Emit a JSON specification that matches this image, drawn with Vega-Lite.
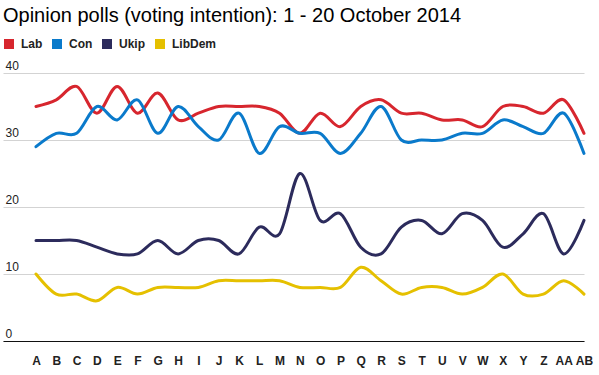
{
  "$schema": "https://vega.github.io/schema/vega-lite/v6.json",
  "width": 581,
  "height": 268,
  "autosize": {"type": "none"},
  "padding": {"left": 3, "top": 73, "right": 15, "bottom": 34},
  "background": "white",
  "title": {
    "text": "Opinion polls (voting intention): 1 - 20 October 2014",
    "anchor": "start",
    "frame": "group",
    "fontSize": 20,
    "font": "Liberation Sans",
    "fontWeight": "normal",
    "color": "#000000",
    "offset": 12
  },
  "config": {"view": {"stroke": null}},
  "datasets": {
    "polls": [
      {"poll": "A", "party": "Lab", "pct": 35}, {"poll": "B", "party": "Lab", "pct": 36}, {"poll": "C", "party": "Lab", "pct": 38}, {"poll": "D", "party": "Lab", "pct": 34},
      {"poll": "E", "party": "Lab", "pct": 38}, {"poll": "F", "party": "Lab", "pct": 34}, {"poll": "G", "party": "Lab", "pct": 37}, {"poll": "H", "party": "Lab", "pct": 33},
      {"poll": "I", "party": "Lab", "pct": 34}, {"poll": "J", "party": "Lab", "pct": 35}, {"poll": "K", "party": "Lab", "pct": 35}, {"poll": "L", "party": "Lab", "pct": 35},
      {"poll": "M", "party": "Lab", "pct": 34}, {"poll": "N", "party": "Lab", "pct": 31}, {"poll": "O", "party": "Lab", "pct": 34}, {"poll": "P", "party": "Lab", "pct": 32},
      {"poll": "Q", "party": "Lab", "pct": 35}, {"poll": "R", "party": "Lab", "pct": 36}, {"poll": "S", "party": "Lab", "pct": 34}, {"poll": "T", "party": "Lab", "pct": 34},
      {"poll": "U", "party": "Lab", "pct": 33}, {"poll": "V", "party": "Lab", "pct": 33}, {"poll": "W", "party": "Lab", "pct": 32}, {"poll": "X", "party": "Lab", "pct": 35},
      {"poll": "Y", "party": "Lab", "pct": 35}, {"poll": "Z", "party": "Lab", "pct": 34}, {"poll": "AA", "party": "Lab", "pct": 36}, {"poll": "AB", "party": "Lab", "pct": 31},

      {"poll": "A", "party": "Con", "pct": 29}, {"poll": "B", "party": "Con", "pct": 31}, {"poll": "C", "party": "Con", "pct": 31}, {"poll": "D", "party": "Con", "pct": 35},
      {"poll": "E", "party": "Con", "pct": 33}, {"poll": "F", "party": "Con", "pct": 36}, {"poll": "G", "party": "Con", "pct": 31}, {"poll": "H", "party": "Con", "pct": 35},
      {"poll": "I", "party": "Con", "pct": 32}, {"poll": "J", "party": "Con", "pct": 30}, {"poll": "K", "party": "Con", "pct": 34}, {"poll": "L", "party": "Con", "pct": 28},
      {"poll": "M", "party": "Con", "pct": 32}, {"poll": "N", "party": "Con", "pct": 31}, {"poll": "O", "party": "Con", "pct": 31}, {"poll": "P", "party": "Con", "pct": 28},
      {"poll": "Q", "party": "Con", "pct": 31}, {"poll": "R", "party": "Con", "pct": 35}, {"poll": "S", "party": "Con", "pct": 30}, {"poll": "T", "party": "Con", "pct": 30},
      {"poll": "U", "party": "Con", "pct": 30}, {"poll": "V", "party": "Con", "pct": 31}, {"poll": "W", "party": "Con", "pct": 31}, {"poll": "X", "party": "Con", "pct": 33},
      {"poll": "Y", "party": "Con", "pct": 32}, {"poll": "Z", "party": "Con", "pct": 31}, {"poll": "AA", "party": "Con", "pct": 34}, {"poll": "AB", "party": "Con", "pct": 28},

      {"poll": "A", "party": "Ukip", "pct": 15}, {"poll": "B", "party": "Ukip", "pct": 15}, {"poll": "C", "party": "Ukip", "pct": 15}, {"poll": "D", "party": "Ukip", "pct": 14},
      {"poll": "E", "party": "Ukip", "pct": 13}, {"poll": "F", "party": "Ukip", "pct": 13}, {"poll": "G", "party": "Ukip", "pct": 15}, {"poll": "H", "party": "Ukip", "pct": 13},
      {"poll": "I", "party": "Ukip", "pct": 15}, {"poll": "J", "party": "Ukip", "pct": 15}, {"poll": "K", "party": "Ukip", "pct": 13}, {"poll": "L", "party": "Ukip", "pct": 17},
      {"poll": "M", "party": "Ukip", "pct": 16}, {"poll": "N", "party": "Ukip", "pct": 25}, {"poll": "O", "party": "Ukip", "pct": 18}, {"poll": "P", "party": "Ukip", "pct": 19},
      {"poll": "Q", "party": "Ukip", "pct": 14}, {"poll": "R", "party": "Ukip", "pct": 13}, {"poll": "S", "party": "Ukip", "pct": 17}, {"poll": "T", "party": "Ukip", "pct": 18},
      {"poll": "U", "party": "Ukip", "pct": 16}, {"poll": "V", "party": "Ukip", "pct": 19}, {"poll": "W", "party": "Ukip", "pct": 18}, {"poll": "X", "party": "Ukip", "pct": 14},
      {"poll": "Y", "party": "Ukip", "pct": 16}, {"poll": "Z", "party": "Ukip", "pct": 19}, {"poll": "AA", "party": "Ukip", "pct": 13}, {"poll": "AB", "party": "Ukip", "pct": 18},

      {"poll": "A", "party": "LibDem", "pct": 10}, {"poll": "B", "party": "LibDem", "pct": 7}, {"poll": "C", "party": "LibDem", "pct": 7}, {"poll": "D", "party": "LibDem", "pct": 6},
      {"poll": "E", "party": "LibDem", "pct": 8}, {"poll": "F", "party": "LibDem", "pct": 7}, {"poll": "G", "party": "LibDem", "pct": 8}, {"poll": "H", "party": "LibDem", "pct": 8},
      {"poll": "I", "party": "LibDem", "pct": 8}, {"poll": "J", "party": "LibDem", "pct": 9}, {"poll": "K", "party": "LibDem", "pct": 9}, {"poll": "L", "party": "LibDem", "pct": 9},
      {"poll": "M", "party": "LibDem", "pct": 9}, {"poll": "N", "party": "LibDem", "pct": 8}, {"poll": "O", "party": "LibDem", "pct": 8}, {"poll": "P", "party": "LibDem", "pct": 8},
      {"poll": "Q", "party": "LibDem", "pct": 11}, {"poll": "R", "party": "LibDem", "pct": 9}, {"poll": "S", "party": "LibDem", "pct": 7}, {"poll": "T", "party": "LibDem", "pct": 8},
      {"poll": "U", "party": "LibDem", "pct": 8}, {"poll": "V", "party": "LibDem", "pct": 7}, {"poll": "W", "party": "LibDem", "pct": 8}, {"poll": "X", "party": "LibDem", "pct": 10},
      {"poll": "Y", "party": "LibDem", "pct": 7}, {"poll": "Z", "party": "LibDem", "pct": 7}, {"poll": "AA", "party": "LibDem", "pct": 9}, {"poll": "AB", "party": "LibDem", "pct": 7}
    ]
  },
  "data": {"name": "polls"},
  "mark": {"type": "line", "interpolate": "cardinal", "strokeWidth": 3, "strokeCap": "round", "strokeJoin": "round"},
  "encoding": {
    "x": {
      "field": "poll",
      "type": "ordinal",
      "scale": {
        "type": "point",
        "padding": 0.813,
        "align": 1,
        "domain": ["A","B","C","D","E","F","G","H","I","J","K","L","M","N","O","P","Q","R","S","T","U","V","W","X","Y","Z","AA","AB"]
      },
      "axis": {
        "title": null,
        "labelAngle": 0,
        "labelFont": "Liberation Sans",
        "labelFontSize": 12,
        "labelFontWeight": "bold",
        "labelColor": "#222222",
        "labelPadding": 14,
        "ticks": false,
        "tickSize": 0,
        "grid": false,
        "domainColor": "#111111",
        "domainWidth": 1
      }
    },
    "y": {
      "field": "pct",
      "type": "quantitative",
      "scale": {"domain": [0, 40], "nice": false},
      "axis": {
        "title": null,
        "values": [0, 10, 20, 30, 40],
        "domain": false,
        "ticks": false,
        "tickSize": 0,
        "labelAlign": "left",
        "labelBaseline": "alphabetic",
        "labelPadding": -2,
        "labelOffset": -4,
        "labelFont": "Liberation Sans",
        "labelFontSize": 12,
        "labelColor": "#222222",
        "gridColor": "#d3d3d3",
        "gridWidth": 1
      }
    },
    "color": {
      "field": "party",
      "type": "nominal",
      "scale": {
        "domain": ["Lab", "Con", "Ukip", "LibDem"],
        "range": ["#d7262e", "#0a7acb", "#2c2b5c", "#e5c000"]
      },
      "legend": {
        "orient": "none",
        "legendX": 0,
        "legendY": -35,
        "direction": "horizontal",
        "title": null,
        "symbolType": "square",
        "symbolSize": 100,
        "symbolStrokeWidth": 0,
        "labelFont": "Liberation Sans",
        "labelFontSize": 12,
        "labelFontWeight": "bold",
        "labelColor": "#222222",
        "labelOffset": 6,
        "columnPadding": 8,
        "encode": {
          "symbols": {"update": {"fill": {"scale": "color", "field": "value"}, "fillOpacity": {"value": 1}, "strokeWidth": {"value": 0}}}
        }
      }
    }
  }
}
